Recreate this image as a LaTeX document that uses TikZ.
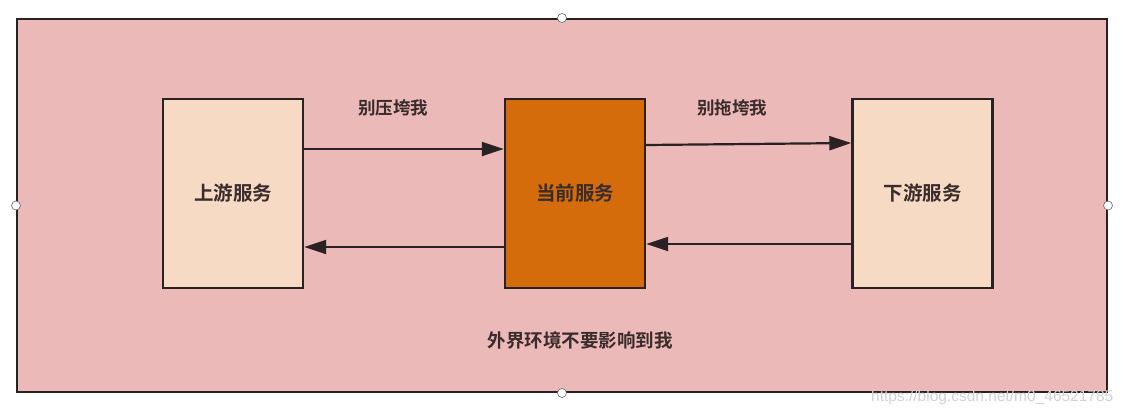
\documentclass[tikz,border=0pt]{standalone}
\usepackage{fontspec}
\newfontfamily\cjk{Noto Sans CJK SC}[BoldFont={Noto Sans CJK SC Bold}]
\newfontfamily\wm{Liberation Sans}
\usetikzlibrary{arrows.meta}
\definecolor{bgpink}{HTML}{EBB9B8}
\definecolor{lightbox}{HTML}{F6DAC3}
\definecolor{orangebox}{HTML}{D56C0B}
\definecolor{edge}{HTML}{2A2222}
\definecolor{txt}{HTML}{3A2C2C}
\tikzset{
  svcbox/.style={draw=edge,line width=2.4pt,minimum width=140pt,minimum height=189pt,inner sep=0pt,font=\cjk\bfseries\fontsize{19.5}{21}\selectfont,text=txt},
  flow/.style={draw=edge,line width=2.2pt,-{Triangle[length=22pt,width=14pt]}},
  lbl/.style={font=\cjk\bfseries\fontsize{17.5}{19}\selectfont,text=txt,inner sep=0pt},
  handle/.style={circle,draw=edge!70,line width=0.6pt,fill=white,minimum size=9pt,inner sep=0pt}
}
\begin{document}
\begin{tikzpicture}[x=1pt,y=-1pt]
\useasboundingbox (0,0) rectangle (1128,416);
\fill[white] (0,0) rectangle (1128,416);
\node[draw=edge,line width=2pt,fill=bgpink,minimum width=1090pt,minimum height=373pt,inner sep=0pt] (frame) at (562,205.5) {};
\node[handle] (ht) at (frame.north) {};
\node[handle] (hb) at (frame.south) {};
\node[handle] (hl) at (frame.west) {};
\node[handle] (hr) at (frame.east) {};
\node[svcbox,fill=lightbox] (up) at (233,193.5) {上游服务};
\node[svcbox,fill=orangebox] (cur) at (575,193.5) {当前服务};
\node[svcbox,fill=lightbox] (down) at (922.5,193.5) {下游服务};
\coordinate (a1) at (up.east |- 0,149);
\coordinate (a2) at (cur.west |- 0,149);
\coordinate (b1) at (cur.west |- 0,247);
\coordinate (b2) at (up.east |- 0,247);
\coordinate (c1) at (cur.east |- 0,145);
\coordinate (c2) at (down.west |- 0,143);
\coordinate (d1) at (down.west |- 0,244);
\coordinate (d2) at (cur.east |- 0,244);
\draw[flow] (a1) -- (a2);
\draw[flow] (b1) -- (b2);
\draw[flow] (c1) -- (c2);
\draw[flow] (d1) -- (d2);
\node[lbl] (l1) at (393,108) {别压垮我};
\node[lbl] (l2) at (732,108) {别拖垮我};
\node[lbl,font=\cjk\bfseries\fontsize{18.5}{20}\selectfont] (l3) at (580,340) {外界环境不要影响到我};
\node[font=\wm\fontsize{15.5}{17}\selectfont,text=gray!35,inner sep=0pt,anchor=west] (wmk) at (871,397) {https://blog.csdn.net/m0\_46521785};
\end{tikzpicture}
\end{document}
